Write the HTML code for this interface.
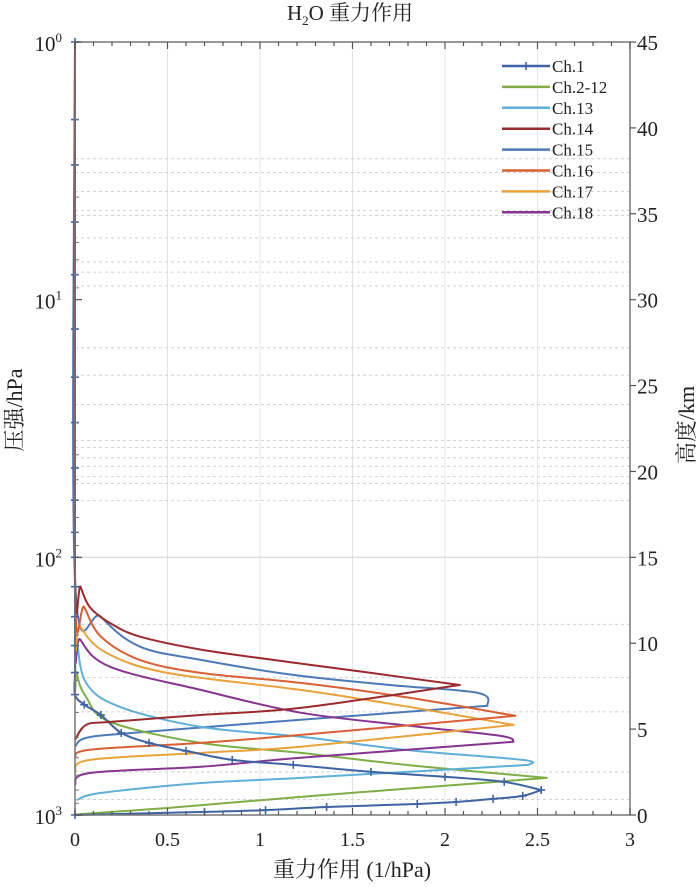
<!DOCTYPE html>
<html><head><meta charset="utf-8"><style>
body{margin:0;background:#fff;width:700px;height:887px;overflow:hidden}
svg{display:block;font-family:"Liberation Serif","Noto Serif CJK SC",serif}
</style></head><body>
<svg id="chart" width="700" height="887" viewBox="0 0 700 887"></svg>
<script>
const xTicks=[0,0.5,1,1.5,2,2.5,3];
const xTickLabels=["0","0.5","1","1.5","2","2.5","3"];
const pTicks=[1,10,100,1000];
const pTickExp=["0","1","2","3"];
const kmTicks=[0,5,10,15,20,25,30,35,40,45];
const levelKm=[38.2,37.4,36.3,35.2,34.9,33.6,32.2,31.6,30.8,27.2,25.6,23.9,21.8,21.4,20.8,20.3,19.7,19.3,18.3,11.1,8.0,6.0,2.5,0.9];
const seriesNames=["Ch.1","Ch.2-12","Ch.13","Ch.14","Ch.15","Ch.16","Ch.17","Ch.18"];
const seriesColors=["#3f64a3","#7fae45","#5fb0d8","#9b2a2f","#4d79b8","#d95f35","#eaa23a","#86348f"];
const ch1=[[0,1],[0,2],[0,3],[0,5],[0,8],[0,13],[0,20],[0,30],[0,45],[0,60],[0,80],[0,100],[0,130],[0,170],[0,220],[0,280],[0,341],[0.05,373],[0.14,409],[0.25,480],[0.4,525],[0.6,564],[0.85,611],[1.18,639],[1.6,680],[2.0,711],[2.32,744],[2.52,800],[2.42,843],[2.26,866],[2.06,890],[1.85,906],[1.36,931],[1.03,957],[0.7,973],[0,1000]];
const ch2_12=[[0,1],[0,200],[0.01,281],[0.06,348],[0.19,435],[0.68,525],[1.22,574],[1.8,640],[2.55,718],[2.0,770],[1.22,851],[0.5,939],[0.05,990],[0,1000]];
const ch13=[[0,1],[0,180],[0.01,209],[0.06,307],[0.24,380],[0.68,455],[1.22,497],[1.8,560],[2.42,611],[2.45,639],[1.22,718],[0.68,751],[0.14,821],[0.01,874]];
const ch14=[[0,1],[0,112],[0.03,130],[0.08,156],[0.19,180],[0.35,203],[0.68,228],[1.16,255],[1.6,281],[2.08,313],[1.22,384],[0.68,409],[0.19,435],[0.06,447],[0,511]];
const ch15=[[0,1],[0,122],[0.14,170],[0.35,222],[0.68,250],[1.18,286],[1.7,313],[2.18,336],[2.23,377],[1.22,427],[0.31,480],[0.06,502],[0,543]];
const ch16=[[0,1],[0,130],[0.05,156],[0.14,203],[0.35,250],[0.68,281],[1.22,307],[1.8,350],[2.38,412],[1.22,489],[0.68,525],[0.08,558],[0,600]];
const ch17=[[0,1],[0,150],[0.03,186],[0.17,235],[0.5,281],[1.22,327],[1.8,380],[2.37,447],[1.22,543],[0.68,574],[0.08,611],[0,680]];
const ch18=[[0,1],[0,165],[0.03,209],[0.19,266],[0.68,327],[1.22,401],[1.8,450],[2.3,493],[2.37,520],[1.22,600],[0.68,650],[0.08,687],[0,764]];
const seriesData=[ch1,ch2_12,ch13,ch14,ch15,ch16,ch17,ch18];
const drawOrder=[4,1,2,7,6,5,0,3];

const L=75,R=630,T=42,B=815;
const xs=v=>L+(v/3)*(R-L);
const ys=p=>T+(Math.log10(p)/3)*(B-T);
const ykm=k=>B-(k/45)*(B-T);
const svg=document.getElementById('chart');
const NS='http://www.w3.org/2000/svg';
function mk(tag,attrs,parent){const e=document.createElementNS(NS,tag);for(const k in attrs)e.setAttribute(k,attrs[k]);(parent||svg).appendChild(e);return e;}
function spline(pts){
  let d='';
  for(let i=0;i<pts.length-1;i++){
    const p0=pts[Math.max(0,i-1)],p1=pts[i],p2=pts[i+1],p3=pts[Math.min(pts.length-1,i+2)];
    const c1x=p1[0]+(p2[0]-p0[0])/6,c1y=p1[1]+(p2[1]-p0[1])/6;
    const c2x=p2[0]-(p3[0]-p1[0])/6,c2y=p2[1]-(p3[1]-p1[1])/6;
    d+=`C${c1x.toFixed(1)},${c1y.toFixed(1)} ${c2x.toFixed(1)},${c2y.toFixed(1)} ${p2[0].toFixed(1)},${p2[1].toFixed(1)}`;
  }
  return d;
}

// grids
const grid=mk('g',{});


xTicks.forEach(v=>{if(v>0&&v<3){const l=mk('line',{x1:xs(v),x2:xs(v),y1:T,y2:B,stroke:'#e4e4e4','stroke-width':1},grid);

}});
levelKm.forEach(k=>{const l=mk('line',{x1:L,x2:R,y1:ykm(k),y2:ykm(k),stroke:'#d2d2d2','stroke-width':1,'stroke-dasharray':'3,3'},grid);

});
const g100=mk('line',{x1:L,x2:R,y1:ys(100),y2:ys(100),stroke:'#d8d8d8','stroke-width':1.2},grid);



// series
drawOrder.forEach(i=>{
  const pts=seriesData[i].map(pt=>[xs(pt[0]),ys(pt[1])]);
  let pk=0;pts.forEach((p,j)=>{if(p[0]>pts[pk][0])pk=j;});
  const up=pts.slice(0,pk+1),lo=pts.slice(pk);
  const d='M'+pts[0][0].toFixed(1)+','+pts[0][1].toFixed(1)+spline(up)+spline(lo);
  const p=mk('path',{d:d,fill:'none',stroke:seriesColors[i],'stroke-width':2,'stroke-linejoin':'round'});
  
  
});
ch1.forEach(pt=>{const x=xs(pt[0]),y=ys(pt[1]);
  const m=mk('path',{d:`M${x-4},${y}H${x+4}M${x},${y-4}V${y+4}`,stroke:seriesColors[0],'stroke-width':1.6});
  
  });

// frame
const fr=mk('rect',{x:L,y:T,width:R-L,height:B-T,fill:'none',stroke:'#777','stroke-width':1.5});


for(let i=0;i<=30;i++){const v=i/10,x=xs(v),len=(i%5==0)?7:4;
  const t1=mk('line',{x1:x,x2:x,y1:B,y2:B-len,stroke:'#555','stroke-width':1.2});
  
  const t2=mk('line',{x1:x,x2:x,y1:T,y2:T+len,stroke:'#555','stroke-width':1.2});
  }
xTicks.forEach((v,i)=>{const t=mk('text',{x:xs(v),y:846,'font-size':20,'text-anchor':'middle',fill:'#222'});t.textContent=xTickLabels[i];
  });
pTicks.forEach((p,i)=>{
  const t=mk('line',{x1:L,x2:L+7,y1:ys(p),y2:ys(p),stroke:'#555','stroke-width':1.2});
  
  const tx=mk('text',{x:62,y:ys(p)+9,'font-size':21,'text-anchor':'end',fill:'#222'});
  tx.innerHTML='10<tspan dy="-9" font-size="13">'+pTickExp[i]+'</tspan>';
  
  if(i<3)for(let m=2;m<10;m++){const mm=mk('line',{x1:L,x2:L+4,y1:ys(p*m),y2:ys(p*m),stroke:'#777','stroke-width':1});
    }
});
kmTicks.forEach(k=>{
  const t=mk('line',{x1:R,x2:R+6,y1:ykm(k),y2:ykm(k),stroke:'#555','stroke-width':1.2});
  
  const tx=mk('text',{x:637,y:ykm(k)+8,'font-size':21,fill:'#222'});tx.textContent=k;
  
});
const lg=mk('g',{});


seriesNames.forEach((n,i)=>{const y=66+i*20.9;
  const ln=mk('line',{x1:502,x2:550,y1:y,y2:y,stroke:seriesColors[i],'stroke-width':2.5},lg);
  
  if(i==0){const m=mk('path',{d:`M526,${y-4}V${y+4}`,stroke:seriesColors[0],'stroke-width':1.6},lg);
    }
  const t=mk('text',{x:552,y:y+6,'font-size':17,fill:'#222'},lg);t.textContent=n;
  
});
</script>
<svg style="position:absolute;left:0;top:0" width="700" height="887">
<text x="350" y="20" font-size="21" text-anchor="middle" fill="#222" font-family="Liberation Serif,Noto Serif CJK SC,serif">H<tspan font-size="13" dy="5">2</tspan><tspan dy="-5">O 重力作用</tspan></text>
<text x="352" y="877" font-size="22" text-anchor="middle" fill="#222" font-family="Liberation Serif,Noto Serif CJK SC,serif">重力作用 (1/hPa)</text>
<text transform="translate(22,410) rotate(-90)" font-size="22" text-anchor="middle" fill="#222" font-family="Liberation Serif,Noto Serif CJK SC,serif">压强/hPa</text>
<text transform="translate(694,425) rotate(-90)" font-size="22" text-anchor="middle" fill="#222" font-family="Liberation Serif,Noto Serif CJK SC,serif">高度/km</text>
</svg>
</body></html>
